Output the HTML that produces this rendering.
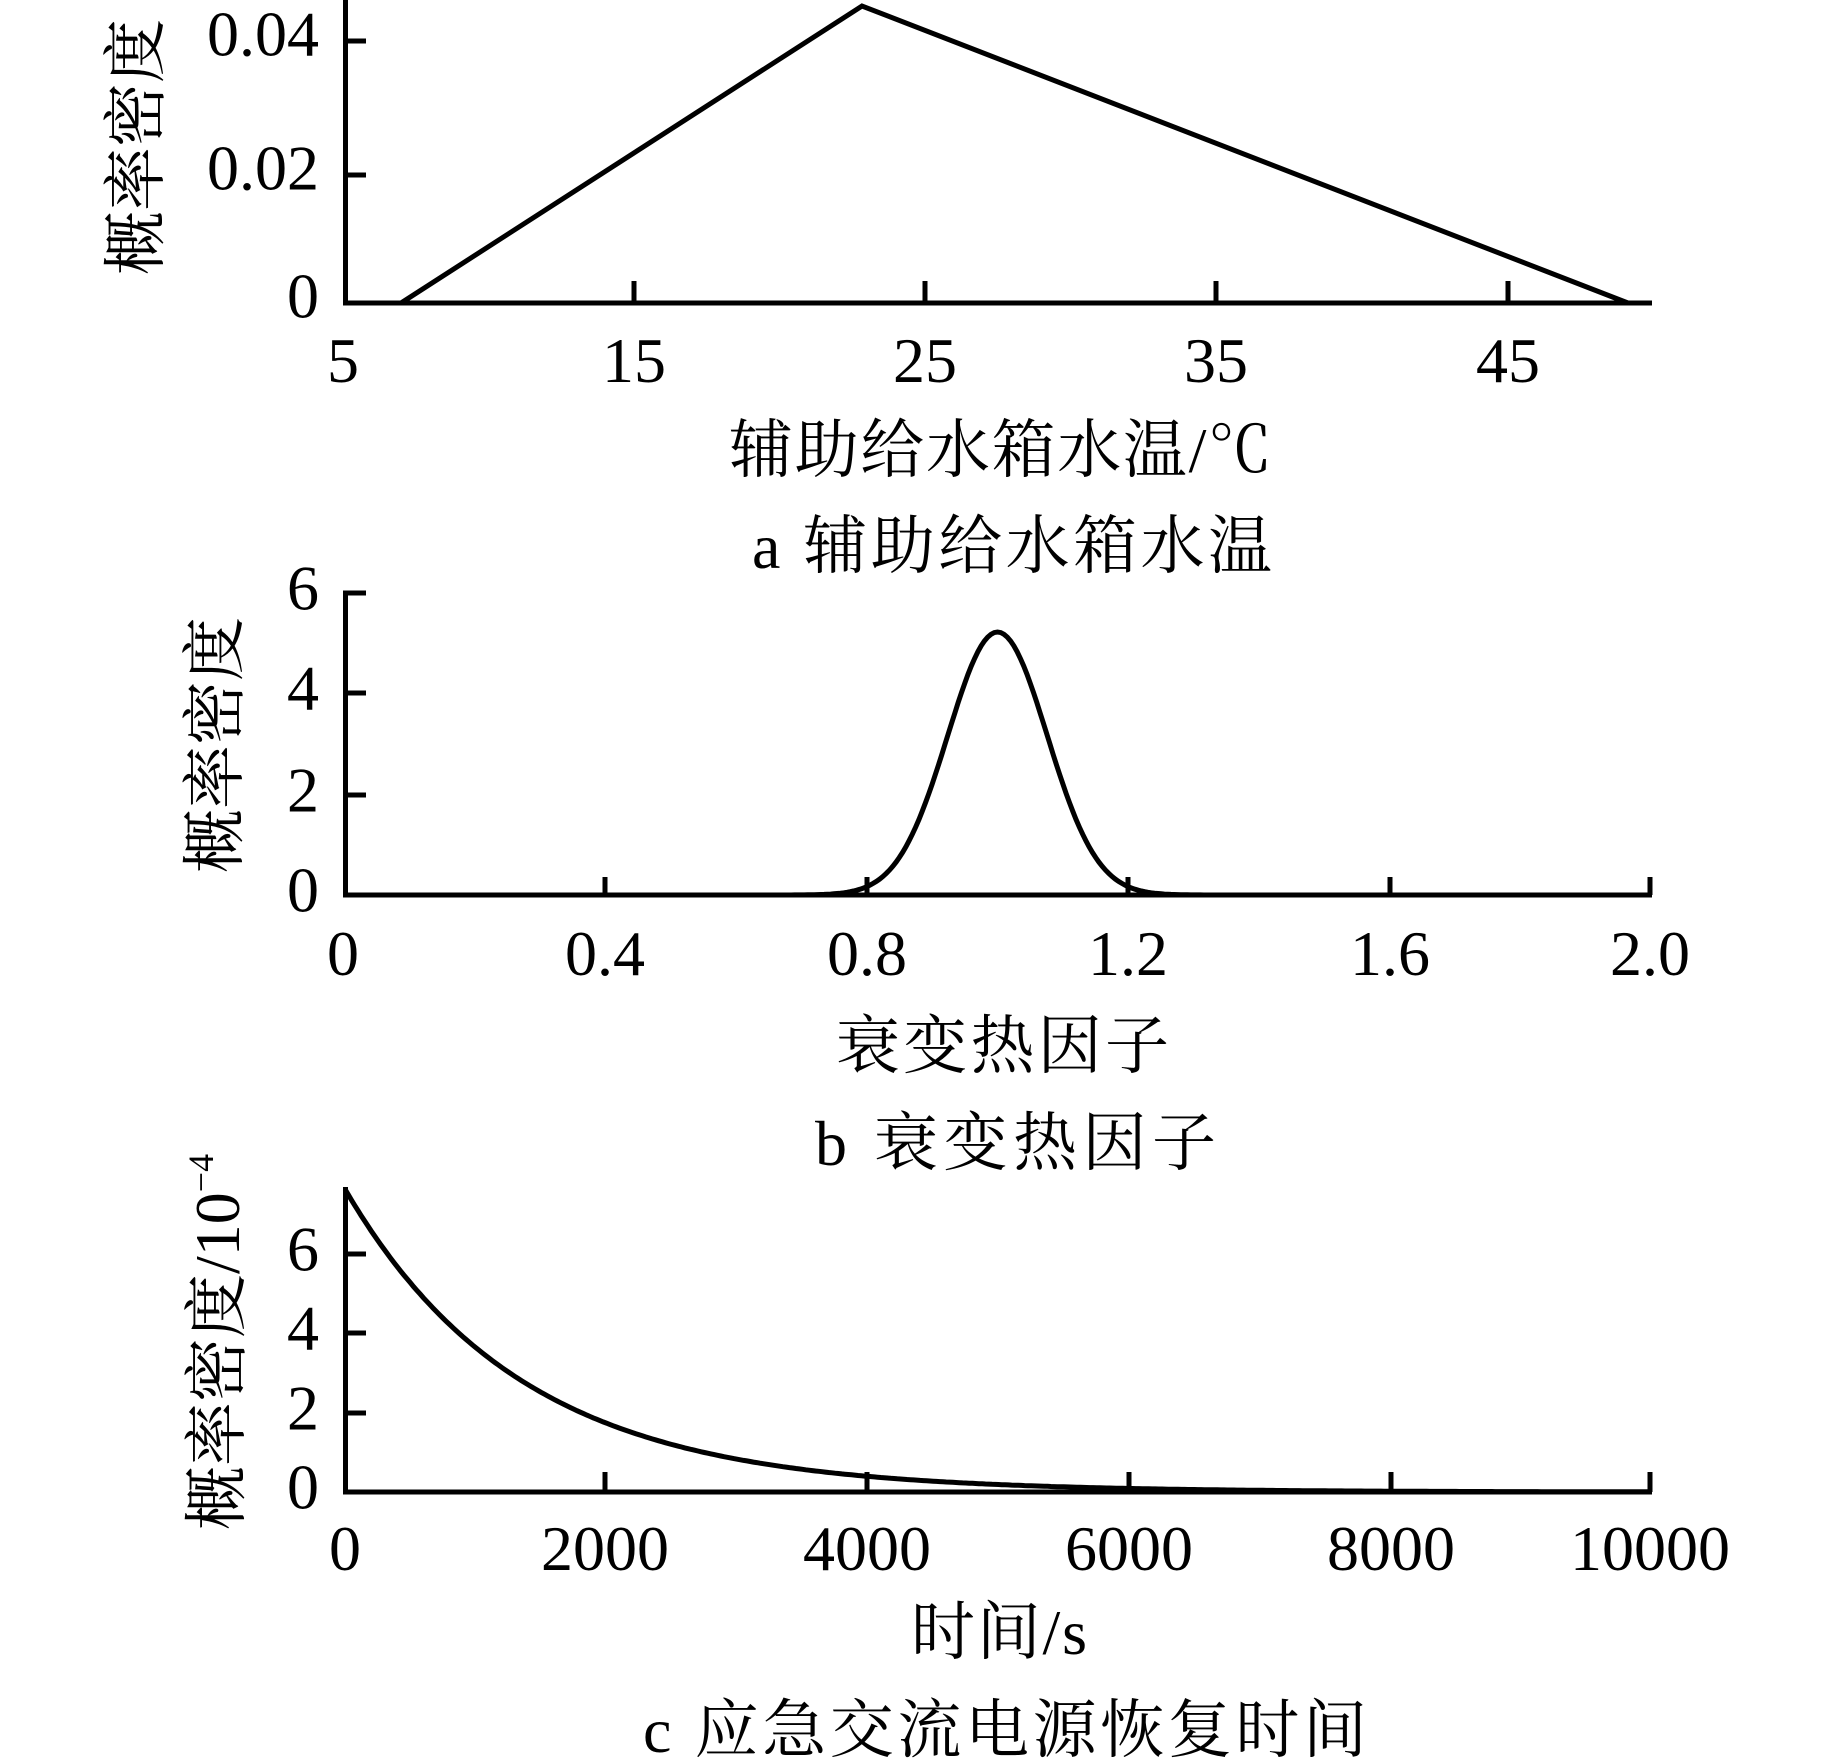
<!DOCTYPE html>
<html><head><meta charset="utf-8"><style>
html,body{margin:0;padding:0;background:#fff;}
svg{display:block;}
text{font-family:"Liberation Serif","Noto Serif CJK SC","Noto Sans CJK SC",serif;fill:#000;font-size:64px;}
.yl{text-anchor:end;dominant-baseline:middle;}
.xl{text-anchor:middle;}
</style></head><body>
<svg id="s" width="1843" height="1763" viewBox="0 0 1843 1763" xmlns="http://www.w3.org/2000/svg">
<g stroke="#000" stroke-width="5" fill="none" stroke-linecap="butt">
<!-- Panel a -->
<path d="M345.5 0 V303 H1652"/>
<path d="M343 41 H366 M343 175 H366"/>
<path d="M634 303 V281 M925 303 V281 M1216 303 V281 M1508 303 V281"/>
<path d="M401 303 L862 6 L1628 303" stroke-linejoin="miter"/>
<!-- Panel b -->
<path d="M345.5 593 V895 H1652"/>
<path d="M343 593 H366 M343 693 H366 M343 795 H366"/>
<path d="M605 895 V877 M867 895 V877 M1128 895 V877 M1390 895 V877 M1650 895 V877"/>
<path id="pb" d=""/>
<!-- Panel c -->
<path d="M345.5 1187 V1492 H1652"/>
<path d="M343 1254 H366 M343 1333 H366 M343 1413 H366"/>
<path d="M605 1492 V1472 M867 1492 V1472 M1129 1492 V1472 M1391 1492 V1472 M1650 1492 V1472"/>
<path id="pc" d=""/>
</g>
<!-- Panel a text -->
<text class="yl" x="319" y="41">0.04</text>
<text class="yl" x="319" y="175">0.02</text>
<text class="yl" x="319" y="303">0</text>
<text class="xl" x="343" y="382">5</text>
<text class="xl" x="634" y="382">15</text>
<text class="xl" x="925" y="382">25</text>
<text class="xl" x="1216" y="382">35</text>
<text class="xl" x="1508" y="382">45</text>
<text transform="translate(158,147) rotate(-90)" text-anchor="middle">概率密度</text>
<text x="729" y="472" textLength="543">辅助给水箱水温/℃</text>
<text x="752" y="568" textLength="520">a  辅助给水箱水温</text>
<!-- Panel b text -->
<text class="yl" x="319" y="595">6</text>
<text class="yl" x="319" y="695">4</text>
<text class="yl" x="319" y="797">2</text>
<text class="yl" x="319" y="897">0</text>
<text class="xl" x="343" y="975">0</text>
<text class="xl" x="605" y="975">0.4</text>
<text class="xl" x="867" y="975">0.8</text>
<text class="xl" x="1128" y="975">1.2</text>
<text class="xl" x="1390" y="975">1.6</text>
<text class="xl" x="1650" y="975">2.0</text>
<text transform="translate(237,745) rotate(-90)" text-anchor="middle">概率密度</text>
<text x="836" y="1068" textLength="333">衰变热因子</text>
<text x="815" y="1165" textLength="401">b  衰变热因子</text>
<!-- Panel c text -->
<text class="yl" x="319" y="1256">6</text>
<text class="yl" x="319" y="1335">4</text>
<text class="yl" x="319" y="1415">2</text>
<text class="yl" x="319" y="1494">0</text>
<text class="xl" x="345" y="1570">0</text>
<text class="xl" x="605" y="1570">2000</text>
<text class="xl" x="867" y="1570">4000</text>
<text class="xl" x="1129" y="1570">6000</text>
<text class="xl" x="1391" y="1570">8000</text>
<text class="xl" x="1650" y="1570">10000</text>
<text transform="translate(239,1530) rotate(-90)">概率密度/10<tspan font-size="36" dy="-26">−4</tspan></text>
<text x="911" y="1654" textLength="176">时间/s</text>
<text x="643" y="1752" textLength="724">c  应急交流电源恢复时间</text>
</svg>
<script>
(function(){
var d="",i,v,p,x,y;
for(i=0;i<=400;i++){v=i*2/400;p=5.26*Math.exp(-Math.pow(v-1,2)/(2*0.076*0.076));
x=343+v*654.5;y=895-p*50;d+=(i?"L":"M")+x.toFixed(1)+" "+y.toFixed(1);}
document.getElementById("pb").setAttribute("d",d);
d="";
for(i=0;i<=400;i++){v=i*10000/400;p=7.63*Math.exp(-v/1350);
x=345+v*0.1307;y=1492-p*39.7;d+=(i?"L":"M")+x.toFixed(1)+" "+y.toFixed(1);}
document.getElementById("pc").setAttribute("d",d);
})();
</script>
</body></html>
